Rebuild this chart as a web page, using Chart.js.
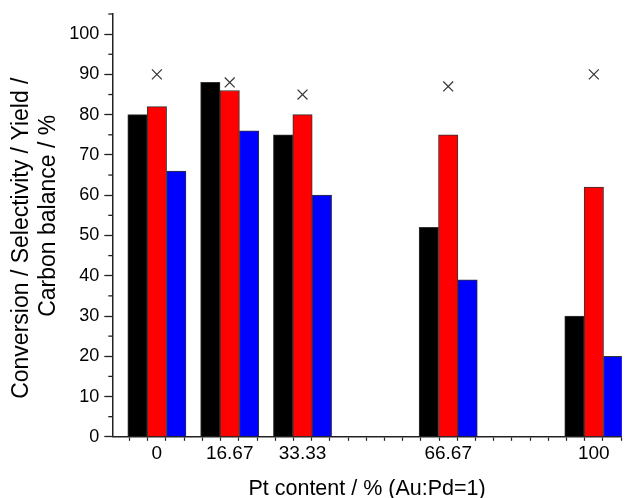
<!DOCTYPE html>
<html>
<head>
<meta charset="utf-8">
<script src="https://cdn.jsdelivr.net/npm/chart.js@4/dist/chart.umd.min.js"></script>
<style>
  html, body { margin: 0; padding: 0; background: #fff; }
  #wrap { width: 630px; height: 498px; }
</style>
</head>
<body>
<div id="wrap"><canvas id="c"></canvas></div>
<script>
// Pt content positions and labels
const ptContent = [0, 16.67, 33.33, 66.67, 100];
const ptLabels = ['0', '16.67', '33.33', '66.67', '100'];

// series (%)
const conversion = [80, 88, 75, 52, 30];
const selectivity = [82, 86, 80, 75, 62];
const yieldPct = [66, 76, 60, 39, 20];
const carbonBalance = [90, 88, 85, 87, 90];

const yTicks = [0, 10, 20, 30, 40, 50, 60, 70, 80, 90, 100];
const yMinor = [5, 15, 25, 35, 45, 55, 65, 75, 85, 95, 105];

const toXY = arr => arr.map((v, i) => ({ x: ptContent[i], y: v }));

// Origin-style minor ticks on the x axis, between the bars
const xMin = -10.2, xMax = 106.4;
const xMarks = [];
for (let k = -2; (k + 0.5) * 100 / 24 <= xMax; k++) xMarks.push((k + 0.5) * 100 / 24);

const minorY = {
  id: 'minorY',
  afterDraw(chart) {
    const s = chart.scales.y, ctx = chart.ctx;
    ctx.save();
    ctx.strokeStyle = '#222'; ctx.lineWidth = 1.3;
    yMinor.forEach(v => {
      const p = s.getPixelForValue(v);
      ctx.beginPath(); ctx.moveTo(s.right - 4, p); ctx.lineTo(s.right, p); ctx.stroke();
    });
    ctx.restore();
  }
};

const barBase = { type: 'bar', borderColor: '#333', borderWidth: 1, barThickness: 19.4 };
const font = 'Arial, "Liberation Sans"';

new Chart(document.getElementById('c'), {
  type: 'bar',
  data: {
    datasets: [
      { ...barBase, label: 'Conversion', data: toXY(conversion), backgroundColor: '#000000' },
      { ...barBase, label: 'Selectivity', data: toXY(selectivity), backgroundColor: '#ff0000' },
      { ...barBase, label: 'Yield', data: toXY(yieldPct), backgroundColor: '#0000ff' },
      { type: 'scatter', label: 'Carbon balance', data: toXY(carbonBalance),
        pointStyle: 'crossRot', pointRadius: 7, borderColor: '#333', borderWidth: 1.2,
        backgroundColor: 'transparent' }
    ]
  },
  options: {
    responsive: true,
    maintainAspectRatio: false,
    animation: false,
    layout: { padding: { top: 12, right: 0, left: 0, bottom: 0 } },
    plugins: { legend: { display: false }, tooltip: { enabled: false } },
    scales: {
      x: {
        type: 'linear', min: xMin, max: xMax, offset: false,
        afterBuildTicks: s => {
          s.ticks = xMarks.concat(ptContent).sort((a, b) => a - b).map(v => ({ value: v }));
        },
        ticks: {
          autoSkip: false, maxRotation: 0, padding: 3, color: '#000',
          font: { family: font, size: 19, lineHeight: 1 },
          callback: v => { const i = ptContent.indexOf(v); return i >= 0 ? ptLabels[i] : ''; }
        },
        grid: {
          offset: false, drawOnChartArea: false, tickLength: 4, tickWidth: 1.2,
          tickColor: c => (c.tick && ptContent.includes(c.tick.value)) ? 'rgba(0,0,0,0)' : '#222'
        },
        border: { color: '#222', width: 1.5 },
        title: {
          display: true, text: 'Pt content / % (Au:Pd=1)', color: '#000',
          font: { family: font, size: 21.5, lineHeight: 0.8 },
          padding: { top: 15, bottom: 0 }
        }
      },
      y: {
        type: 'linear', min: 0, max: 105,
        afterBuildTicks: s => { s.ticks = yTicks.map(v => ({ value: v })); },
        ticks: {
          padding: 5, color: '#000',
          font: { family: font, size: 18, lineHeight: 1 }
        },
        grid: { drawOnChartArea: false, tickLength: 8, tickWidth: 1.3, tickColor: '#222' },
        border: { color: '#222', width: 1.5 },
        title: {
          display: true, color: '#000',
          // spaces nudge each line off centre as in the original
          text: ['Conversion / Selectivity / Yield /    ', '   Carbon balance / %'],
          font: { family: font, size: 23, lineHeight: 1.18 },
          padding: { top: 8, bottom: 2 }
        }
      }
    }
  },
  plugins: [minorY]
});
</script>
</body>
</html>
